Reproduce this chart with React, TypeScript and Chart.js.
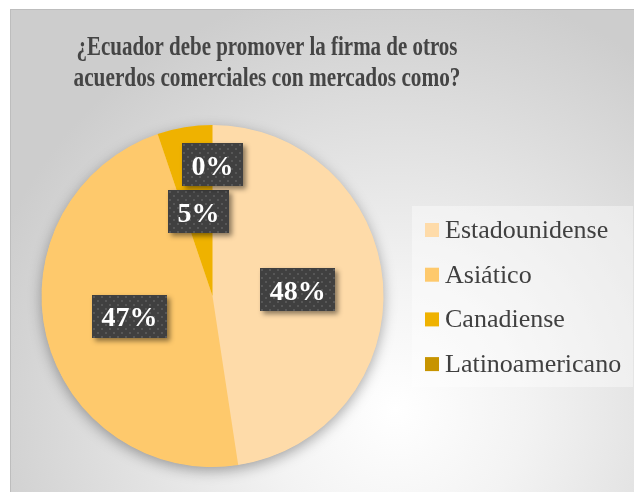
import React, { useEffect, useRef } from 'react';
import { Chart, registerables } from 'chart.js';

Chart.register(...registerables);

const TITLE_LINES = ['¿Ecuador debe promover la firma de otros', 'acuerdos comerciales con mercados como?'];
const CATEGORIES = ['Estadounidense', 'Asiático', 'Canadiense', 'Latinoamericano'];
const VALUES = [47.6, 47.2, 5.2, 0];
const COLORS = ['#FEDBA9', '#FEC96C', '#EFB200', '#C79400'];

const W = 634;
const H = 492;
const SERIF = '"Liberation Serif", "Times New Roman", serif';

function makeDotPattern(ctx: CanvasRenderingContext2D) {
  const c = document.createElement('canvas');
  c.width = 8;
  c.height = 8;
  const p = c.getContext('2d')!;
  p.fillStyle = '#404040';
  p.fillRect(0, 0, 8, 8);
  p.fillStyle = '#575757';
  p.fillRect(1, 1, 2, 2);
  p.fillRect(5, 5, 2, 2);
  return ctx.createPattern(c, 'repeat');
}

const backgroundPlugin = {
  id: 'bgPlugin',
  beforeDraw(chart: any) {
    const ctx = chart.ctx as CanvasRenderingContext2D;
    ctx.save();
    ctx.fillStyle = '#ffffff';
    ctx.fillRect(0, 0, W, H);
    const g = ctx.createRadialGradient(395, 410, 0, 395, 410, 430);
    g.addColorStop(0, '#ffffff');
    g.addColorStop(0.3, '#f3f3f3');
    g.addColorStop(1, '#cdcdcd');
    ctx.fillStyle = g;
    ctx.fillRect(10, 9, W - 10, H - 9);
    ctx.strokeStyle = '#bdbdbd';
    ctx.lineWidth = 1;
    ctx.strokeRect(10.5, 9.5, W + 5, H + 5);
    // title (horizontally condensed like the reference rendering)
    ctx.fillStyle = '#454545';
    ctx.font = `bold 27px ${SERIF}`;
    ctx.textAlign = 'center';
    ctx.textBaseline = 'alphabetic';
    const targetW = [381, 387];
    const baselines = [55, 86];
    TITLE_LINES.forEach((line, i) => {
      const mw = ctx.measureText(line).width;
      const sx = targetW[i] / mw;
      ctx.save();
      ctx.translate(267, baselines[i]);
      ctx.scale(sx, 1);
      ctx.fillText(line, 0, 0);
      ctx.restore();
    });
    ctx.restore();
  },
  beforeDatasetsDraw(chart: any) {
    const ctx = chart.ctx as CanvasRenderingContext2D;
    const meta = chart.getDatasetMeta(0);
    const arc = meta.data[0];
    if (!arc) return;
    const { x, y, outerRadius } = arc.getProps(['x', 'y', 'outerRadius'], true);
    ctx.save();
    ctx.shadowColor = 'rgba(0,0,0,0.35)';
    ctx.shadowBlur = 14;
    ctx.shadowOffsetY = 4;
    ctx.fillStyle = COLORS[0];
    ctx.beginPath();
    ctx.arc(x, y, outerRadius - 0.5, 0, Math.PI * 2);
    ctx.fill();
    ctx.restore();
  },
  afterDatasetsDraw(chart: any) {
    const ctx = chart.ctx as CanvasRenderingContext2D;
    const meta = chart.getDatasetMeta(0);
    const data: number[] = chart.data.datasets[0].data;
    const total = data.reduce((a, b) => a + b, 0);
    ctx.save();
    ctx.font = `bold 28px ${SERIF}`;
    const boxH = 43;
    const padX = 9.5;
    const gap = 4;
    const order = data.map((v, i) => i).sort((a, b) => (data[a] === 0 ? 1 : 0) - (data[b] === 0 ? 1 : 0));
    const placed: { i: number; x: number; y: number; w: number; h: number; t: string }[] = [];
    for (const i of order) {
      const arc = meta.data[i];
      const { x, y, startAngle, endAngle, outerRadius } = arc.getProps(
        ['x', 'y', 'startAngle', 'endAngle', 'outerRadius'],
        true
      );
      const mid = (startAngle + endAngle) / 2;
      const t = Math.round((data[i] / total) * 100) + '%';
      const w = ctx.measureText(t).width + padX * 2;
      let r = outerRadius * 0.5;
      let cx = 0;
      let cy = 0;
      for (let k = 0; k < 200; k++) {
        cx = x + Math.cos(mid) * r;
        cy = y + Math.sin(mid) * r;
        const hit = placed.some(
          (p) =>
            Math.abs(p.x - cx) < (p.w + w) / 2 + gap && Math.abs(p.y - cy) < (p.h + boxH) / 2 + gap
        );
        if (!hit) break;
        r += 1;
      }
      placed.push({ i, x: cx, y: cy, w, h: boxH, t });
    }
    const pattern = makeDotPattern(ctx);
    placed.sort((a, b) => a.i - b.i);
    for (const p of placed) {
      const bx = Math.round(p.x - p.w / 2);
      const by = Math.round(p.y - p.h / 2);
      ctx.save();
      ctx.shadowColor = 'rgba(0,0,0,0.45)';
      ctx.shadowBlur = 5;
      ctx.shadowOffsetX = 3;
      ctx.shadowOffsetY = 3;
      ctx.fillStyle = '#404040';
      ctx.fillRect(bx, by, Math.round(p.w), p.h);
      ctx.restore();
      if (pattern) {
        ctx.save();
        ctx.translate(bx, by);
        ctx.fillStyle = pattern;
        ctx.fillRect(0, 0, Math.round(p.w), p.h);
        ctx.restore();
      }
      ctx.fillStyle = '#ffffff';
      ctx.textAlign = 'center';
      ctx.textBaseline = 'alphabetic';
      ctx.fillText(p.t, p.x, p.y + 10);
    }
    ctx.restore();
  },
  afterDraw(chart: any) {
    const ctx = chart.ctx as CanvasRenderingContext2D;
    const labels: string[] = chart.data.labels;
    const colors: string[] = chart.data.datasets[0].backgroundColor;
    ctx.save();
    ctx.fillStyle = 'rgba(255,255,255,0.4)';
    ctx.fillRect(412, 206, 221, 181);
    ctx.font = `26px ${SERIF}`;
    ctx.textAlign = 'left';
    ctx.textBaseline = 'alphabetic';
    labels.forEach((lab, i) => {
      const cy = 230 + i * 44.7;
      ctx.fillStyle = colors[i];
      ctx.fillRect(425, cy - 7, 14, 14);
      ctx.fillStyle = '#404040';
      ctx.fillText(lab, 445, cy + 8);
    });
    ctx.restore();
  },
};

export default function App() {
  const ref = useRef<HTMLCanvasElement | null>(null);
  useEffect(() => {
    document.body.style.margin = '0';
    const canvas = ref.current!;
    const chart = new Chart(canvas, {
      type: 'pie',
      data: {
        labels: CATEGORIES,
        datasets: [
          {
            data: VALUES,
            backgroundColor: COLORS,
            borderWidth: 0,
          },
        ],
      },
      options: {
        responsive: false,
        animation: false,
        devicePixelRatio: 1,
        layout: { padding: { left: 41.5, right: 250.5, top: 125, bottom: 25 } },
        plugins: {
          legend: { display: false },
          title: { display: false },
          tooltip: { enabled: false },
        },
      },
      plugins: [backgroundPlugin],
    });
    return () => chart.destroy();
  }, []);
  return (
    <div style={{ position: 'absolute', left: 0, top: 0, width: W, height: H }}>
      <canvas ref={ref} width={W} height={H} style={{ display: 'block', width: W, height: H }} />
    </div>
  );
}
